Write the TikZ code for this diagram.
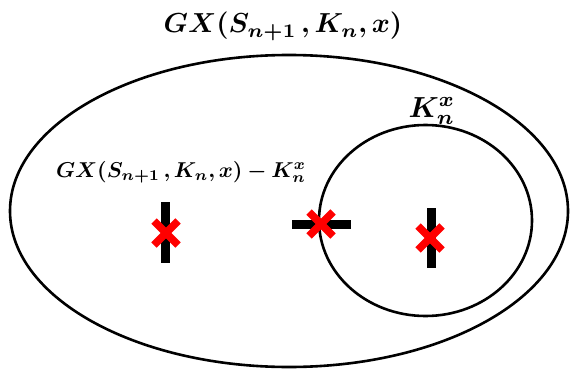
\documentclass[tikz,border=0pt]{standalone}
\usepackage{bm}
\begin{document}
\begin{tikzpicture}[x=1pt,y=-1pt,
  setline/.style={line width=2.6pt},
  label/.style={anchor=base, scale=#1, transform shape},
  bar/.style={line width=8.5pt},
  cross/.style={red, line width=7.5pt}]
  \useasboundingbox (0,0) rectangle (575,369);
  % Sets
  \draw[setline] (289,211) ellipse [x radius=279, y radius=156];
  \draw[setline] (425.5,220.5) ellipse [x radius=106.5, y radius=95.5];
  % Labels
  \node[label=2.75] (whole) at (283,33) {$\bm{GX(S_{n+1}\,,K_n,x)}$};
  \node[label=2.15] (rest) at (181,177) {$\bm{GX(S_{n+1}\,,K_n,x)-K_n^x}$};
  \node[label=2.9] (kset) at (432,117) {$\bm{K_n^x}$};
  % Point outside K
  \draw[bar] (165.5,202) -- (165.5,263);
  \draw[cross] (154,221) -- (178,245);
  \draw[cross] (154,245) -- (178,221);
  % Point on the border
  \draw[bar] (292,224.5) -- (351,224.5);
  \draw[cross] (309,212) -- (333,236);
  \draw[cross] (309,236) -- (333,212);
  % Point inside K
  \draw[bar] (431.5,208) -- (431.5,268);
  \draw[cross] (418,226) -- (442,250);
  \draw[cross] (418,250) -- (442,226);
\end{tikzpicture}
\end{document}
